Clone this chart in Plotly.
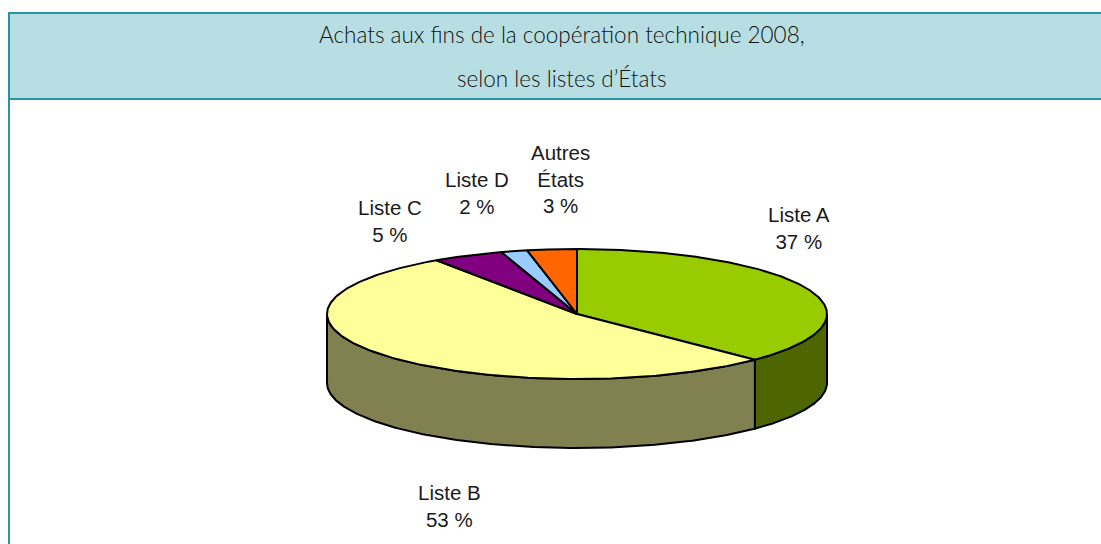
import numpy as np
import plotly.graph_objects as go

categories = ["Liste A", "Liste B", "Liste C", "Liste D", "Autres<br>États"]
shares = [37.4, 53.1, 4.6, 1.7, 3.2]
percent_labels = [37, 53, 5, 2, 3]
top_colors = ["#99CC00", "#FFFF99", "#800080", "#99CCFF", "#FF6600"]
side_colors = ["#4D6600", "#808050", "#400040", "#4D6680", "#803300"]
label_x = [799, 449, 390, 477, 560]
label_y = [228, 506, 221, 193, 178.5]
title_lines = ["Achats aux fins de la coopération technique 2008,", "selon les listes d’États"]

W, H = 1101, 544
CX, CY, RX, RY, DEPTH = 577, 314, 250, 65, 69


def ell(theta):
    return CX + RX * np.sin(theta), CY - RY * np.cos(theta)


fig = go.Figure()
edges = np.radians(np.cumsum([0] + shares) * 3.6)

# side walls: only the part of each slice that faces the viewer
for i in range(len(shares)):
    lo, hi = max(edges[i], np.pi / 2), min(edges[i + 1], 3 * np.pi / 2)
    if hi <= lo:
        continue
    t = np.linspace(lo, hi, 160)
    x, y = ell(t)
    fig.add_trace(go.Scatter(
        x=np.r_[x, x[::-1], x[0]], y=np.r_[y, y[::-1] + DEPTH, y[0]],
        mode="lines", fill="toself", fillcolor=side_colors[i],
        line=dict(color="black", width=2), hoverinfo="skip", showlegend=False))

# top faces
for i, name in enumerate(categories):
    t = np.linspace(edges[i], edges[i + 1], 200)
    x, y = ell(t)
    fig.add_trace(go.Scatter(
        x=np.r_[CX, x, CX], y=np.r_[CY, y, CY],
        mode="lines", fill="toself", fillcolor=top_colors[i],
        line=dict(color="black", width=2), name=name.replace("<br>", " "),
        showlegend=False))

shapes = [
    dict(type="rect", xref="x", yref="y", x0=9, x1=W + 5, y0=13, y1=99,
         fillcolor="#B7DFE3", line=dict(color="#2E929E", width=2), layer="below"),
    dict(type="line", xref="x", yref="y", x0=9, x1=9, y0=13, y1=H + 5,
         line=dict(color="#2E929E", width=2), layer="below"),
]

annotations = [
    dict(x=562, y=34, text=title_lines[0], showarrow=False, xanchor="center", yanchor="middle",
         font=dict(family="Lato", size=22.5, color="#111111", weight=300)),
    dict(x=562, y=78, text=title_lines[1], showarrow=False, xanchor="center", yanchor="middle",
         font=dict(family="Lato", size=22.5, color="#111111", weight=300)),
]
for name, p, lx, ly in zip(categories, percent_labels, label_x, label_y):
    annotations.append(dict(
        x=lx, y=ly, text=f"{name}<br>{p} %", showarrow=False,
        xanchor="center", yanchor="middle", align="center",
        font=dict(family="Liberation Sans", size=20.5, color="#1a1a1a")))

fig.update_layout(
    width=W, height=H, margin=dict(l=0, r=0, t=0, b=0),
    paper_bgcolor="white", plot_bgcolor="white",
    xaxis=dict(range=[0, W], visible=False, fixedrange=True),
    yaxis=dict(range=[H, 0], visible=False, fixedrange=True),
    shapes=shapes, annotations=annotations,
)
fig.write_html("out.html", config={"displayModeBar": False},
               post_script="document.body.style.margin='0';document.body.style.overflow='hidden';")
